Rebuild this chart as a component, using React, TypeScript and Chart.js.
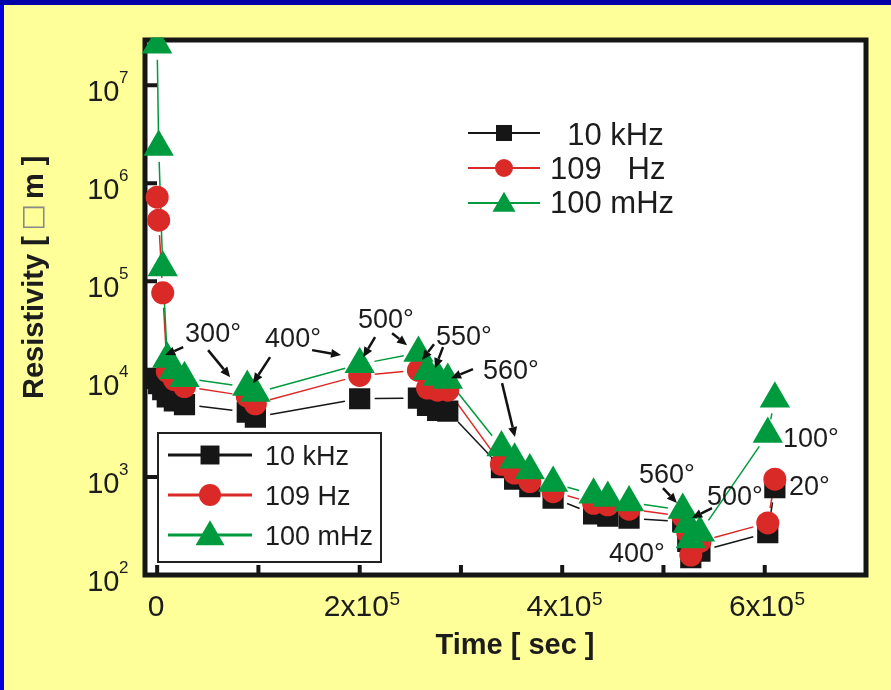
import React, { useEffect, useRef } from 'react';
import { Chart, registerables } from 'chart.js';

Chart.register(...registerables);

// ---------- data ----------
const TIMES = [
  0, 1500, 5500, 10000, 17000, 27000,
  89000, 97000,
  200000,
  258000, 267000, 277000, 287000,
  340000, 353000, 368000, 391000,
  431000, 445000, 466000,
  519000, 524000, 527000, 536000,
  603000, 610000,
];
const R_10KHZ = [
  1.02e4, 9.0e3, 7.8e3, 6.6e3, 6.0e3, 5.5e3,
  4.6e3, 4.1e3,
  6.3e3,
  6.4e3, 5.4e3, 4.8e3, 4.7e3,
  1.25e3, 9.5e2, 8.0e2, 6.1e2,
  4.2e2, 4.0e2, 3.8e2,
  3.5e2, 2.2e2, 1.5e2, 1.75e2,
  2.7e2, 7.8e2,
];
const R_109HZ = [
  7.2e5, 4.2e5, 7.6e4, 1.2e4, 9.9e3, 8.4e3,
  6.7e3, 5.6e3,
  1.09e4,
  1.23e4, 8.1e3, 7.7e3, 7.7e3,
  1.35e3, 1.1e3, 9.0e2, 7.1e2,
  5.4e2, 5.2e2, 4.7e2,
  4.0e2, 2.7e2, 1.6e2, 2.2e2,
  3.4e2, 9.5e2,
];
const R_100MHZ = [
  2.6e7, 2.35e6, 1.38e5, 1.6e4, 1.23e4, 1.02e4,
  8.3e3, 7.2e3,
  1.42e4,
  1.85e4, 1.2e4, 1.05e4, 9.8e3,
  2.0e3, 1.5e3, 1.17e3, 8.7e2,
  6.6e2, 6.1e2, 5.5e2,
  4.6e2, 3.3e2, 2.3e2, 2.7e2,
  2.75e3, 6.3e3,
];
const SERIES_LABELS = ['10 kHz', '109 Hz', '100 mHz'];
const UPPER_LEGEND_LABELS = ['  10 kHz', '109   Hz', '100 mHz'];

const X_TICKS = [0, 100000, 200000, 300000, 400000, 500000, 600000];
const X_LABELS: [number, string, string][] = [
  [0, '0', ''],
  [200000, '2x10', '5'],
  [400000, '4x10', '5'],
  [600000, '6x10', '5'],
];
const Y_TICKS = [1e3, 1e4, 1e5, 1e6, 1e7];
const Y_LABELS: [number, string, string][] = [
  [1e2, '10', '2'], [1e3, '10', '3'], [1e4, '10', '4'],
  [1e5, '10', '5'], [1e6, '10', '6'], [1e7, '10', '7'],
];

// annotation texts: [text, time, log10(value)] (left / baseline anchor)
const ANNOT_TEXT: [string, number, number][] = [
  ['300°', 27600, 4.378],
  ['400°', 106600, 4.327],
  ['500°', 198400, 4.52],
  ['550°', 275400, 4.347],
  ['560°', 321800, 4.0],
  ['560°', 475800, 2.939],
  ['500°', 542900, 2.714],
  ['400°', 446200, 2.133],
  ['100°', 618000, 3.306],
  ['20°', 623900, 2.816],
];
// arrows: [t1, lg1, t2(tip), lg2(tip)]
const ARROWS: [number, number, number, number][] = [
  [25700, 4.327, 7900, 4.245],
  [50300, 4.296, 72100, 4.02],
  [111500, 4.224, 94800, 3.959],
  [153000, 4.296, 181600, 4.245],
  [215200, 4.429, 203400, 4.224],
  [232000, 4.469, 246800, 4.347],
  [273400, 4.357, 261600, 4.194],
  [282300, 4.327, 274400, 4.112],
  [311900, 4.102, 290200, 4.01],
  [340600, 3.959, 353400, 3.408],
  [499500, 2.888, 513300, 2.735],
  [547900, 2.684, 528200, 2.582],
];

// ---------- styles ----------
const FONT = '"Liberation Sans", Arial, Helvetica, sans-serif';
const BLACK = '#161616';
const RED = '#DA2A27';
const GREEN = '#009A3E';
const TEXT = '#1c1c1c';
const YELLOW = '#FFFF99';

const STYLES = [
  { color: BLACK, style: 'rect', r: 15, legUp: 11.3, legLow: 13.4, order: 3 },
  { color: RED, style: 'circle', r: 11.5, legUp: 9, legLow: 11, order: 2 },
  { color: GREEN, style: 'triangle', r: 17.5, legUp: 13.3, legLow: 16.7, order: 1 },
];
const VALUES = [R_10KHZ, R_109HZ, R_100MHZ];
const GAP = 15;

function drawMarker(ctx: CanvasRenderingContext2D, style: string, x: number, y: number, r: number, color: string) {
  ctx.save();
  ctx.fillStyle = color;
  ctx.beginPath();
  if (style === 'rect') {
    const s = r * Math.SQRT1_2;
    ctx.rect(x - s, y - s, 2 * s, 2 * s);
  } else if (style === 'circle') {
    ctx.arc(x, y, r, 0, Math.PI * 2);
  } else {
    ctx.moveTo(x, y - r);
    ctx.lineTo(x + r * 0.8660254, y + r / 2);
    ctx.lineTo(x - r * 0.8660254, y + r / 2);
    ctx.closePath();
  }
  ctx.fill();
  ctx.restore();
}

const decorPlugin = {
  id: 'decor',
  beforeDraw(chart: any) {
    const { ctx, width, height, chartArea: a } = chart;
    ctx.save();
    ctx.fillStyle = YELLOW;
    ctx.fillRect(0, 0, width, height);
    ctx.fillStyle = '#0000A8';
    ctx.fillRect(0, 0, width, 5);
    ctx.fillStyle = '#0000DC';
    ctx.fillRect(0, 5, 4, height - 5);
    ctx.fillStyle = '#ffffff';
    ctx.fillRect(a.left, a.top, a.right - a.left, a.bottom - a.top);
    ctx.restore();
  },
  beforeDatasetsDraw(chart: any) {
    const { ctx, chartArea: a, scales } = chart;
    const xs = scales.x, ys = scales.y;
    // lines with gaps around the symbols
    ctx.save();
    ctx.beginPath();
    ctx.rect(a.left, a.top, a.right - a.left, a.bottom - a.top);
    ctx.clip();
    ctx.lineWidth = 1.5;
    for (let s = 0; s < 3; s++) {
      const vals = VALUES[s];
      ctx.strokeStyle = STYLES[s].color;
      for (let i = 0; i < TIMES.length - 1; i++) {
        const x1 = xs.getPixelForValue(TIMES[i]);
        const y1 = ys.getPixelForValue(vals[i]);
        const x2 = xs.getPixelForValue(TIMES[i + 1]);
        const y2 = ys.getPixelForValue(vals[i + 1]);
        const dx = x2 - x1, dy = y2 - y1;
        const d = Math.hypot(dx, dy);
        if (d <= 2 * GAP) continue;
        const ux = dx / d, uy = dy / d;
        ctx.beginPath();
        ctx.moveTo(x1 + ux * GAP, y1 + uy * GAP);
        ctx.lineTo(x2 - ux * GAP, y2 - uy * GAP);
        ctx.stroke();
      }
    }
    ctx.restore();
    // frame
    ctx.save();
    ctx.strokeStyle = BLACK;
    ctx.lineWidth = 5;
    ctx.strokeRect(a.left, a.top, a.right - a.left, a.bottom - a.top);
    // ticks
    ctx.lineWidth = 4;
    ctx.beginPath();
    for (const v of Y_TICKS) {
      const y = ys.getPixelForValue(v);
      ctx.moveTo(a.left, y);
      ctx.lineTo(a.left + 12, y);
    }
    for (const t of X_TICKS) {
      const x = xs.getPixelForValue(t);
      ctx.moveTo(x, a.bottom);
      ctx.lineTo(x, a.bottom - 10);
    }
    ctx.stroke();
    ctx.restore();
  },
  afterDatasetsDraw(chart: any) {
    const { ctx, scales } = chart;
    const xs = scales.x, ys = scales.y;
    // annotations
    ctx.save();
    ctx.fillStyle = TEXT;
    ctx.font = `27px ${FONT}`;
    ctx.textAlign = 'left';
    ctx.textBaseline = 'alphabetic';
    for (const [txt, t, lg] of ANNOT_TEXT) {
      ctx.fillText(txt, xs.getPixelForValue(t), ys.getPixelForValue(Math.pow(10, lg)));
    }
    ctx.strokeStyle = '#111';
    ctx.fillStyle = '#111';
    ctx.lineWidth = 2.5;
    for (const [t1, l1, t2, l2] of ARROWS) {
      const x1 = xs.getPixelForValue(t1), y1 = ys.getPixelForValue(Math.pow(10, l1));
      const x2 = xs.getPixelForValue(t2), y2 = ys.getPixelForValue(Math.pow(10, l2));
      const ang = Math.atan2(y2 - y1, x2 - x1);
      const hl = 10, hw = 4.5;
      const bx = x2 - Math.cos(ang) * hl, by = y2 - Math.sin(ang) * hl;
      ctx.beginPath();
      ctx.moveTo(x1, y1);
      ctx.lineTo(bx, by);
      ctx.stroke();
      ctx.beginPath();
      ctx.moveTo(x2, y2);
      ctx.lineTo(bx + Math.sin(ang) * hw, by - Math.cos(ang) * hw);
      ctx.lineTo(bx - Math.sin(ang) * hw, by + Math.cos(ang) * hw);
      ctx.closePath();
      ctx.fill();
    }
    ctx.restore();

    // upper legend
    ctx.save();
    const upLines = [133, 168, 203];
    const upBase = [145, 179, 213];
    ctx.font = `31px ${FONT}`;
    ctx.fillStyle = TEXT;
    for (let s = 0; s < 3; s++) {
      const st = STYLES[s];
      ctx.strokeStyle = st.color;
      ctx.lineWidth = 2;
      ctx.beginPath();
      ctx.moveTo(468, upLines[s]);
      ctx.lineTo(540, upLines[s]);
      ctx.stroke();
      drawMarker(ctx, st.style, 504, upLines[s] + (st.style === 'triangle' ? 2 : 0), st.legUp, st.color);
      ctx.fillStyle = TEXT;
      ctx.fillText(UPPER_LEGEND_LABELS[s], 550, upBase[s]);
    }
    ctx.restore();

    // lower legend box
    ctx.save();
    ctx.fillStyle = '#ffffff';
    ctx.fillRect(157, 432, 225, 131);
    ctx.strokeStyle = '#222';
    ctx.lineWidth = 2;
    ctx.strokeRect(158, 433, 223, 129);
    const loLines = [455, 495, 535];
    const loBase = [465, 505, 545];
    ctx.font = `27px ${FONT}`;
    for (let s = 0; s < 3; s++) {
      const st = STYLES[s];
      ctx.strokeStyle = st.color;
      ctx.lineWidth = 3;
      ctx.beginPath();
      ctx.moveTo(168, loLines[s]);
      ctx.lineTo(252, loLines[s]);
      ctx.stroke();
      drawMarker(ctx, st.style, 210, loLines[s] + (st.style === 'triangle' ? 2 : 0), st.legLow, st.color);
      ctx.fillStyle = TEXT;
      ctx.fillText(SERIES_LABELS[s], 265, loBase[s]);
    }
    ctx.restore();
  },
  afterDraw(chart: any) {
    const { ctx, scales } = chart;
    const xs = scales.x, ys = scales.y;
    ctx.save();
    ctx.fillStyle = TEXT;
    ctx.textBaseline = 'alphabetic';
    // y tick labels
    for (const [v, base, sup] of Y_LABELS) {
      const y = ys.getPixelForValue(v);
      ctx.font = `29px ${FONT}`;
      ctx.textAlign = 'right';
      ctx.fillText(base, 119.5, y + 15.5);
      ctx.font = `17px ${FONT}`;
      ctx.textAlign = 'left';
      ctx.fillText(sup, 119, y - 2.5);
    }
    // x tick labels
    for (const [t, base, sup] of X_LABELS) {
      const x = xs.getPixelForValue(t) + (sup ? 2 : -1);
      ctx.font = `30px ${FONT}`;
      const wb = ctx.measureText(base).width;
      ctx.font = `19px ${FONT}`;
      const wsup = sup ? ctx.measureText(sup).width : 0;
      const start = x - (wb + wsup) / 2;
      ctx.textAlign = 'left';
      ctx.font = `30px ${FONT}`;
      ctx.fillText(base, start, 616);
      if (sup) {
        ctx.font = `19px ${FONT}`;
        ctx.fillText(sup, start + wb + 0.5, 605);
      }
    }
    // x title
    ctx.font = `bold 29px ${FONT}`;
    ctx.textAlign = 'center';
    ctx.fillText('Time [ sec ]', 515, 654);
    // y title (rotated)
    ctx.translate(43, 399);
    ctx.rotate(-Math.PI / 2);
    ctx.textAlign = 'left';
    ctx.font = `bold 29px ${FONT}`;
    const p1 = 'Resistivity [ ';
    ctx.fillText(p1, 0, 0);
    const w1 = ctx.measureText(p1).width;
    // the missing-glyph box of the original
    ctx.font = `28px "DejaVu Sans", sans-serif`;
    ctx.fillStyle = '#8a8a8a';
    ctx.textAlign = 'center';
    ctx.textBaseline = 'middle';
    ctx.fillText('\u25A1', w1 + 11, -9);
    ctx.fillStyle = TEXT;
    ctx.textAlign = 'left';
    ctx.textBaseline = 'alphabetic';
    ctx.font = `bold 29px ${FONT}`;
    ctx.fillText(' m ]', w1 + 21, 0);
    ctx.restore();
  },
};

export default function App() {
  const ref = useRef<HTMLCanvasElement | null>(null);
  useEffect(() => {
    if (!ref.current) return;
    const chart = new Chart(ref.current, {
      type: 'scatter',
      data: {
        datasets: STYLES.map((st, s) => ({
          label: SERIES_LABELS[s],
          data: TIMES.map((t, i) => ({ x: t, y: VALUES[s][i] })),
          showLine: false,
          pointStyle: st.style as any,
          pointRadius: st.r,
          pointHoverRadius: st.r,
          pointBackgroundColor: st.color,
          pointBorderColor: st.color,
          pointBorderWidth: 0,
          pointHoverBorderWidth: 0,
          backgroundColor: st.color,
          borderColor: st.color,
          order: st.order,
          clip: { left: 3, top: 2.5, right: 3, bottom: 3 } as any,
        })),
      },
      options: {
        animation: false,
        responsive: false,
        devicePixelRatio: 1,
        events: [],
        layout: { padding: { left: 145, top: 40, right: 25, bottom: 115 } },
        plugins: { legend: { display: false }, tooltip: { enabled: false }, title: { display: false } },
        scales: {
          x: { type: 'linear', min: -12000, max: 700000, display: false },
          y: { type: 'logarithmic', min: 100, max: 2.9e7, display: false },
        },
      },
      plugins: [decorPlugin],
    });
    return () => chart.destroy();
  }, []);
  return (
    <div style={{ position: 'absolute', left: 0, top: 0, width: 891, height: 690 }}>
      <canvas ref={ref} width={891} height={690} style={{ display: 'block', width: 891, height: 690 }} />
    </div>
  );
}
